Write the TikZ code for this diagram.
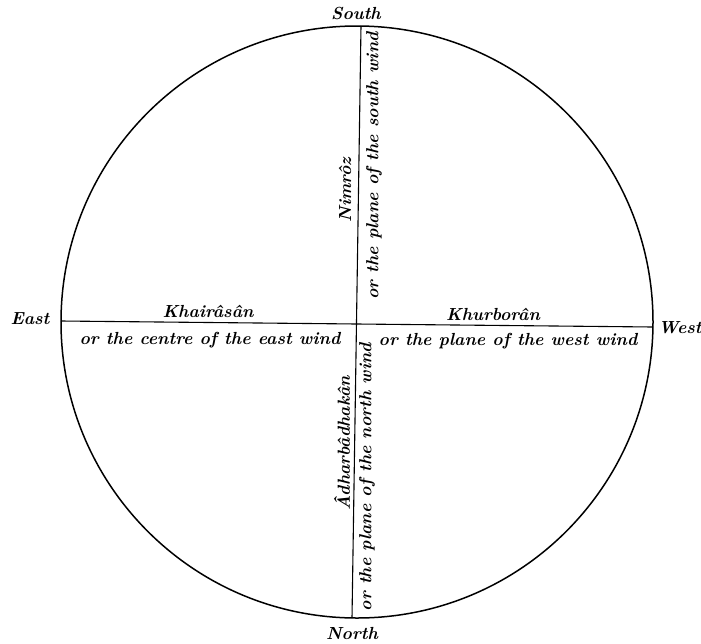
\documentclass[tikz,border=0pt]{standalone}
\usepackage{fontspec}
\usepackage{tikz}

\begin{document}
\begin{tikzpicture}[x=1pt,y=-1pt, every node/.style={font=\fontsize{17.5}{20}\selectfont\bfseries\itshape, inner sep=1pt},
    axisline/.style={line width=1.1pt}, vlabel/.style={rotate=90}]
      \useasboundingbox (0,0) rectangle (701,643);
      \draw[line width=1.5pt] (357,322) circle[radius=296];
      % ends of the two axes
      \coordinate (E) at (61,321);
      \coordinate (W) at (653,327);
      \coordinate (S) at (361,26);
      \coordinate (N) at (352,618);
      \draw[axisline] (E) -- (W);
      \draw[axisline] (S) -- (N);
      \node (south) at (356,13) {South};
      \node (north) at (352,633) {North};
      \node (east) at (30,319) {East};
      \node (west) at (680,328) {West};
      \node (khairasan) at (208,311) {Khairâsân};
      \node (eastwind) at (210,340) {or the centre of the east wind};
      \node (khurboran) at (493,314) {Khurborân};
      \node (westwind) at (508,341) {or the plane of the west wind};
      \node[vlabel] (nimroz) at (345,190) {Nimrôz};
      \node[vlabel] (southwind) at (374,166) {or the plane of the south wind};
      \node[vlabel] (adhar) at (342,443) {Âdharbâdhakân};
      \node[vlabel] (northwind) at (367,477) {or the plane of the north wind};
    \end{tikzpicture}
\end{document}
